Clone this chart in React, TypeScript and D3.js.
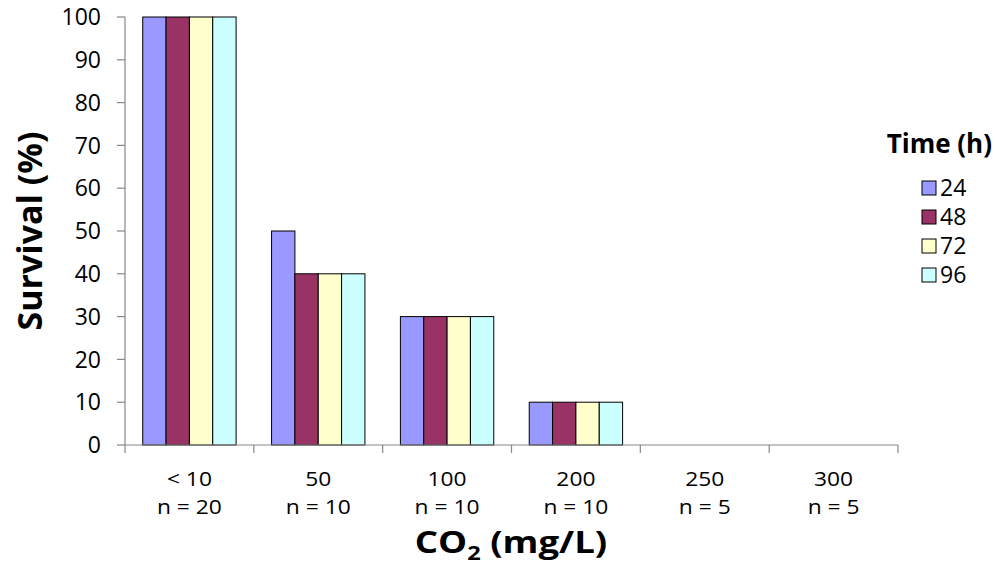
import React from "react";
import * as d3 from "d3";

const categories = ["< 10", "50", "100", "200", "250", "300"];
const sampleSizes = ["n = 20", "n = 10", "n = 10", "n = 10", "n = 5", "n = 5"];
const seriesNames = ["24", "48", "72", "96"];
const seriesColors = ["#9999FF", "#993366", "#FFFFCC", "#CCFFFF"];
const values24 = [100, 50, 30, 10, 0, 0];
const values48 = [100, 40, 30, 10, 0, 0];
const values72 = [100, 40, 30, 10, 0, 0];
const values96 = [100, 40, 30, 10, 0, 0];
const yTicks = [0, 10, 20, 30, 40, 50, 60, 70, 80, 90, 100];

const allSeries = [values24, values48, values72, values96];

function SText(props: {
  x: number;
  y: number;
  sx?: number;
  anchor?: string;
  size: number;
  bold?: boolean;
  dy?: string;
  rotate?: number;
  children: React.ReactNode;
}) {
  const { x, y, sx = 1, anchor = "start", size, bold, dy, rotate = 0, children } = props;
  return (
    <g transform={`translate(${x},${y}) rotate(${rotate}) scale(${sx},1)`}>
      <text x={0} y={0} dy={dy} textAnchor={anchor} fontSize={size} fontWeight={bold ? "bold" : "normal"} fill="#000">
        {children}
      </text>
    </g>
  );
}

export default function App() {
  const W = 995, H = 564;
  const left = 125, right = 898, top = 17, bottom = 445;
  const font = "'Open Sans', sans-serif";
  const x = d3.scaleBand<string>().domain(categories).range([left, right]).paddingInner(0).paddingOuter(0);
  const bw = x.bandwidth();
  const inner = d3.scaleBand<string>().domain(seriesNames).range([0, bw]).paddingOuter(0.76).paddingInner(0);
  const y = d3.scaleLinear().domain([0, 100]).range([bottom, top]);
  const boundaries = d3.range(categories.length + 1).map((i) => left + i * bw);

  return (
    <svg width={W} height={H} style={{ position: "absolute", left: 0, top: 0, background: "#fff" }} fontFamily={font}>
      {categories.map((c, ci) => (
        <g key={c}>
          {seriesNames.map((s, si) => {
            const v = allSeries[si][ci];
            if (v <= 0) return null;
            return (
              <rect
                key={s}
                x={(x(c) ?? 0) + (inner(s) ?? 0)}
                y={y(v)}
                width={inner.bandwidth()}
                height={y(0) - y(v)}
                fill={seriesColors[si]}
                stroke="#000"
                strokeWidth={1}
              />
            );
          })}
        </g>
      ))}
      {/* y axis */}
      <line x1={left} x2={left} y1={top} y2={bottom} stroke="#888" strokeWidth={1.2} />
      {yTicks.map((t) => (
        <g key={t}>
          <line x1={left - 8} x2={left} y1={y(t)} y2={y(t)} stroke="#888" strokeWidth={1.2} />
          <SText x={left - 24} y={y(t)} dy="0.36em" anchor="end" size={23}>
            {t}
          </SText>
        </g>
      ))}
      {/* x axis */}
      <line x1={left} x2={right} y1={bottom} y2={bottom} stroke="#888" strokeWidth={1.2} />
      {boundaries.map((b, i) => (
        <line key={i} x1={b} x2={b} y1={bottom} y2={bottom + 8} stroke="#888" strokeWidth={1.2} />
      ))}
      {categories.map((c, i) => (
        <g key={c}>
          <SText x={(x(c) ?? 0) + bw / 2} y={486} anchor="middle" size={20} sx={1.14}>
            {c}
          </SText>
          <SText x={(x(c) ?? 0) + bw / 2} y={514} anchor="middle" size={20} sx={1.14}>
            {sampleSizes[i]}
          </SText>
        </g>
      ))}
      {/* axis titles */}
      <SText x={511} y={553} anchor="middle" size={31} bold sx={1.18}>
        CO<tspan fontSize={20} dy={7}>2</tspan>
        <tspan dy={-7}> (mg/L)</tspan>
      </SText>
      <SText x={42} y={231} anchor="middle" size={34} bold rotate={-90}>
        Survival (%)
      </SText>
      {/* legend */}
      <SText x={992} y={153} anchor="end" size={26} bold>
        Time (h)
      </SText>
      {seriesNames.map((s, i) => {
        const cy = 188 + i * 29;
        return (
          <g key={s}>
            <rect x={922} y={cy - 7} width={14} height={14} fill={seriesColors[i]} stroke="#000" strokeWidth={1} />
            <SText x={940} y={cy} dy="0.36em" size={23}>
              {s}
            </SText>
          </g>
        );
      })}
    </svg>
  );
}
